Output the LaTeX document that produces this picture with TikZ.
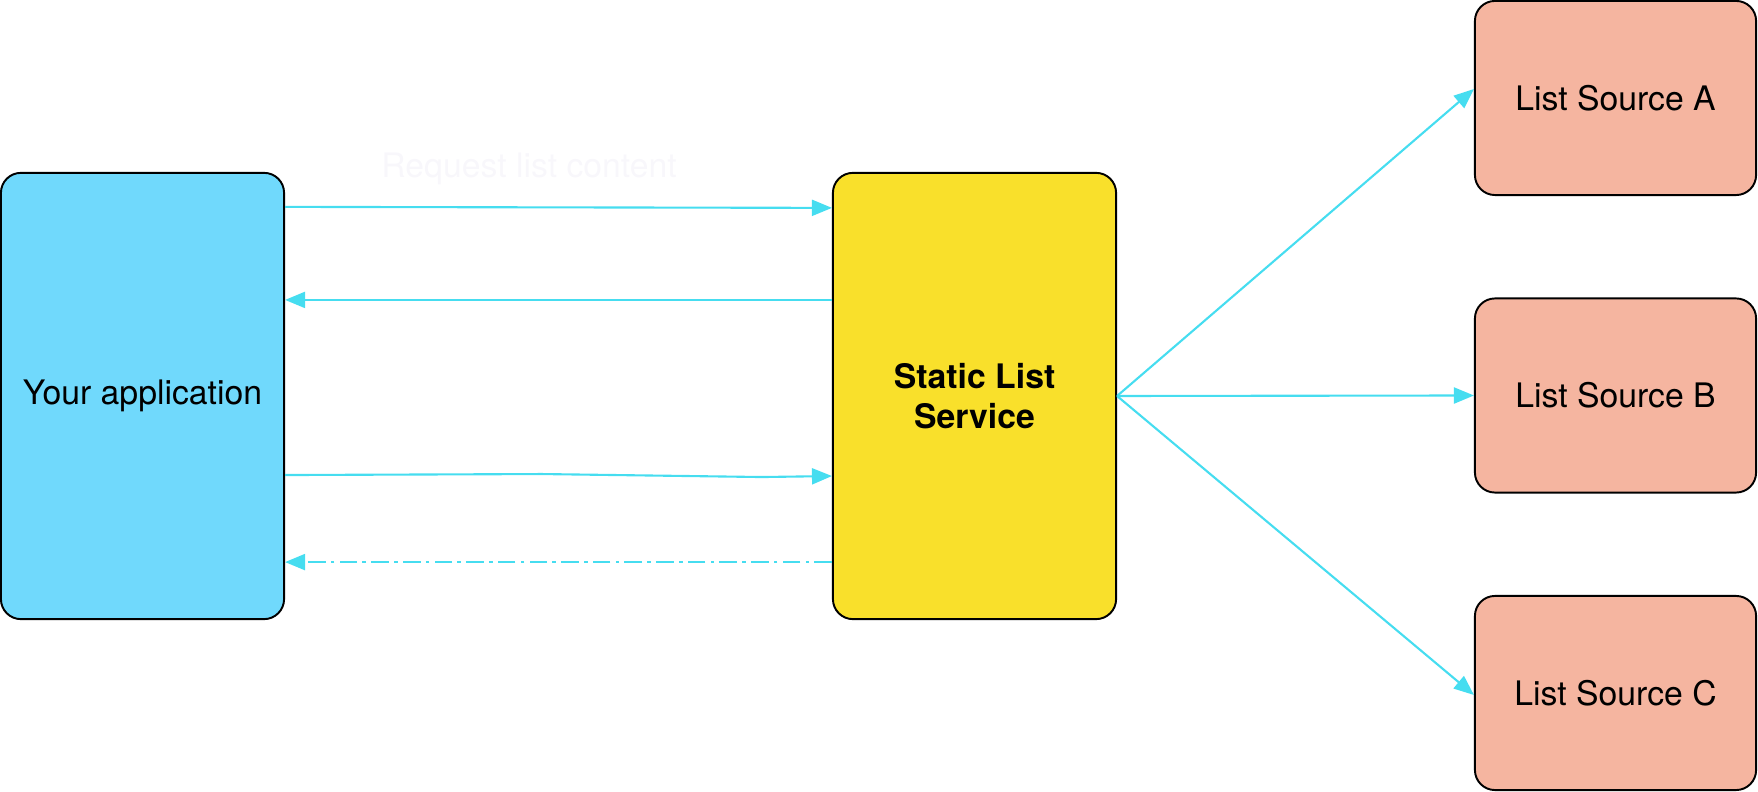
\documentclass[tikz,border=0pt]{standalone}
\usepackage{fontspec}
\setmainfont{TeX Gyre Heros}
\usepackage{xcolor}
\usepackage{tikz}
\usetikzlibrary{positioning,arrows.meta}

\definecolor{appblue}{RGB}{112,217,252}
\definecolor{svcyellow}{RGB}{249,224,43}
\definecolor{srcpink}{RGB}{245,181,160}
\definecolor{flowcyan}{RGB}{70,221,240}
\definecolor{faint}{RGB}{248,247,251}

\begin{document}
\begin{tikzpicture}[
    x=0.01cm, y=-0.01cm,
    every node/.style={
        align=center,
        font=\fontsize{9.6}{11.4}\selectfont
    },
    box/.style={
        draw=black,
        line width=0.55pt,
        rounded corners=0.2cm,
        minimum width=2.83cm,
        minimum height=4.46cm
    },
    srcbox/.style={
        box,
        fill=srcpink,
        minimum width=2.81cm,
        minimum height=1.94cm
    },
    flow/.style={-{Triangle[length=0.2cm,width=0.16cm]}, draw=flowcyan, line width=0.6pt}
]
\useasboundingbox (0,0) rectangle (1758,792);

\node[box, fill=appblue] (app) at (142.5,396) {Your application};
\node[box, fill=svcyellow] (sls) at (974.5,396) {\textbf{Static List}\\\textbf{Service}};
\node[srcbox] (srca) at (1615.5,98) {List Source A};
\node[srcbox] (srcb) at (1615.5,395.5) {List Source B};
\node[srcbox] (srcc) at (1615.5,693) {List Source C};
\node[text=faint] (req) at (529,169) {Request list content};

\draw[flow] ([yshift=1.89cm]app.east) -- ([yshift=1.88cm]sls.west);
\draw[flow] ([yshift=0.96cm]sls.west) -- ([yshift=0.96cm]app.east);
\draw[flow] ([yshift=-0.79cm]app.east) -- ([xshift=-2.9cm,yshift=-0.78cm]sls.west)
    -- ([xshift=-0.7cm,yshift=-0.81cm]sls.west) -- ([yshift=-0.8cm]sls.west);
\draw[flow, dash pattern=on 5pt off 1.5pt on 1pt off 1.5pt] ([yshift=-1.66cm]sls.west) -- ([yshift=-1.66cm]app.east);

\draw[flow] (sls.east) -- ([yshift=0.09cm]srca.west);
\draw[flow] (sls.east) -- (srcb.west);
\draw[flow] (sls.east) -- ([yshift=-0.02cm]srcc.west);

\end{tikzpicture}
\end{document}
